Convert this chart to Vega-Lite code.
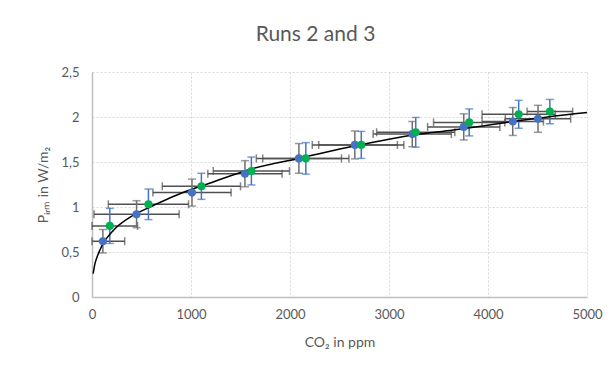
{
  "$schema": "https://vega.github.io/schema/vega-lite/v6.json",
  "autosize": "none",
  "width": 495,
  "height": 225,
  "padding": {"left": 92, "top": 72, "right": 21, "bottom": 74},
  "background": "white",
  "title": {
    "text": "Runs 2 and 3",
    "anchor": "middle",
    "dx": -24,
    "offset": 21,
    "font": "Lato",
    "fontSize": 21,
    "fontWeight": "normal",
    "color": "#595959"
  },
  "datasets": {
    "runs": [
      {"run": "Run 2", "co2": 110, "p": 0.62, "co2err": 220, "perr": 0.13},
      {"run": "Run 2", "co2": 450, "p": 0.92, "co2err": 430, "perr": 0.15},
      {"run": "Run 2", "co2": 1010, "p": 1.16, "co2err": 395, "perr": 0.15},
      {"run": "Run 2", "co2": 1545, "p": 1.37, "co2err": 375, "perr": 0.145},
      {"run": "Run 2", "co2": 2090, "p": 1.54, "co2err": 430, "perr": 0.165},
      {"run": "Run 2", "co2": 2655, "p": 1.69, "co2err": 430, "perr": 0.155},
      {"run": "Run 2", "co2": 3235, "p": 1.81, "co2err": 395, "perr": 0.14},
      {"run": "Run 2", "co2": 3755, "p": 1.89, "co2err": 365, "perr": 0.145},
      {"run": "Run 2", "co2": 4250, "p": 1.95, "co2err": 310, "perr": 0.155},
      {"run": "Run 2", "co2": 4505, "p": 1.98, "co2err": 330, "perr": 0.15},
      {"run": "Run 3", "co2": 180, "p": 0.79, "co2err": 280, "perr": 0.195},
      {"run": "Run 3", "co2": 570, "p": 1.03, "co2err": 405, "perr": 0.17},
      {"run": "Run 3", "co2": 1105, "p": 1.23, "co2err": 395, "perr": 0.145},
      {"run": "Run 3", "co2": 1610, "p": 1.4, "co2err": 385, "perr": 0.155},
      {"run": "Run 3", "co2": 2160, "p": 1.54, "co2err": 435, "perr": 0.175},
      {"run": "Run 3", "co2": 2720, "p": 1.69, "co2err": 430, "perr": 0.15},
      {"run": "Run 3", "co2": 3270, "p": 1.83, "co2err": 395, "perr": 0.165},
      {"run": "Run 3", "co2": 3810, "p": 1.94, "co2err": 360, "perr": 0.15},
      {"run": "Run 3", "co2": 4310, "p": 2.03, "co2err": 370, "perr": 0.155},
      {"run": "Run 3", "co2": 4625, "p": 2.06, "co2err": 230, "perr": 0.135}
    ],
    "trend": [
      {"co2": 12, "p": 0.26},
      {"co2": 30, "p": 0.37},
      {"co2": 53, "p": 0.45},
      {"co2": 103, "p": 0.575},
      {"co2": 220, "p": 0.745},
      {"co2": 389, "p": 0.89},
      {"co2": 558, "p": 0.985},
      {"co2": 725, "p": 1.07},
      {"co2": 894, "p": 1.15},
      {"co2": 1230, "p": 1.28},
      {"co2": 1600, "p": 1.42},
      {"co2": 2090, "p": 1.54},
      {"co2": 2660, "p": 1.68},
      {"co2": 3250, "p": 1.8},
      {"co2": 3650, "p": 1.855},
      {"co2": 4130, "p": 1.93},
      {"co2": 4600, "p": 2.0},
      {"co2": 5000, "p": 2.05}
    ]
  },
  "encoding": {
    "x": {
      "field": "co2",
      "type": "quantitative",
      "scale": {"domain": [0, 5000], "clamp": true, "nice": false},
      "axis": {
        "title": "CO₂ in ppm",
        "values": [0, 1000, 2000, 3000, 4000, 5000],
        "format": "d",
        "labelFlush": false,
        "labelPadding": 11,
        "titlePadding": 14
      }
    },
    "y": {
      "field": "p",
      "type": "quantitative",
      "scale": {"domain": [0, 2.5], "nice": false},
      "axis": {
        "title": "Pᵢᵣₘ in W/m₂",
        "values": [0, 0.5, 1, 1.5, 2, 2.5],
        "labelExpr": "replace(toString(datum.value), '.', ',')",
        "labelFlush": false,
        "labelPadding": 13,
        "titlePadding": 10
      }
    }
  },
  "layer": [
    {
      "data": {"name": "runs"},
      "mark": {"type": "errorbar", "ticks": true, "size": 8, "thickness": 1.5, "color": "#505050"},
      "encoding": {
        "x": {"field": "co2", "type": "quantitative"},
        "xError": {"field": "co2err"},
        "y": {"field": "p", "type": "quantitative"}
      }
    },
    {
      "data": {"name": "runs"},
      "transform": [{"filter": "datum.run === 'Run 2'"}],
      "mark": {"type": "errorbar", "ticks": true, "size": 8, "thickness": 1.5, "color": "#6f6f6f"},
      "encoding": {
        "y": {"field": "p", "type": "quantitative"},
        "yError": {"field": "perr"},
        "x": {"field": "co2", "type": "quantitative"}
      }
    },
    {
      "data": {"name": "runs"},
      "transform": [{"filter": "datum.run === 'Run 3'"}],
      "mark": {"type": "errorbar", "ticks": true, "size": 8, "thickness": 1.5, "color": "#4472C4"},
      "encoding": {
        "y": {"field": "p", "type": "quantitative"},
        "yError": {"field": "perr"},
        "x": {"field": "co2", "type": "quantitative"}
      }
    },
    {
      "data": {"name": "trend"},
      "mark": {"type": "line", "color": "#000000", "strokeWidth": 1.5, "interpolate": "monotone"},
      "encoding": {}
    },
    {
      "data": {"name": "runs"},
      "mark": {"type": "point", "filled": true, "opacity": 1, "size": 65, "shape": "circle"},
      "encoding": {
        "color": {
          "field": "run",
          "type": "nominal",
          "scale": {"domain": ["Run 2", "Run 3"], "range": ["#4472C4", "#00B050"]},
          "legend": null
        }
      }
    }
  ],
  "config": {
    "font": "Lato",
    "view": {"stroke": null},
    "axis": {
      "grid": true,
      "gridColor": "#d9d9d9",
      "gridDash": [2, 2],
      "gridWidth": 1,
      "domainColor": "#bfbfbf",
      "domainWidth": 1.5,
      "ticks": false,
      "labelColor": "#595959",
      "labelFont": "Lato",
      "labelFontSize": 13,
      "titleColor": "#595959",
      "titleFont": "Lato",
      "titleFontSize": 14,
      "titleFontWeight": "normal"
    }
  }
}
